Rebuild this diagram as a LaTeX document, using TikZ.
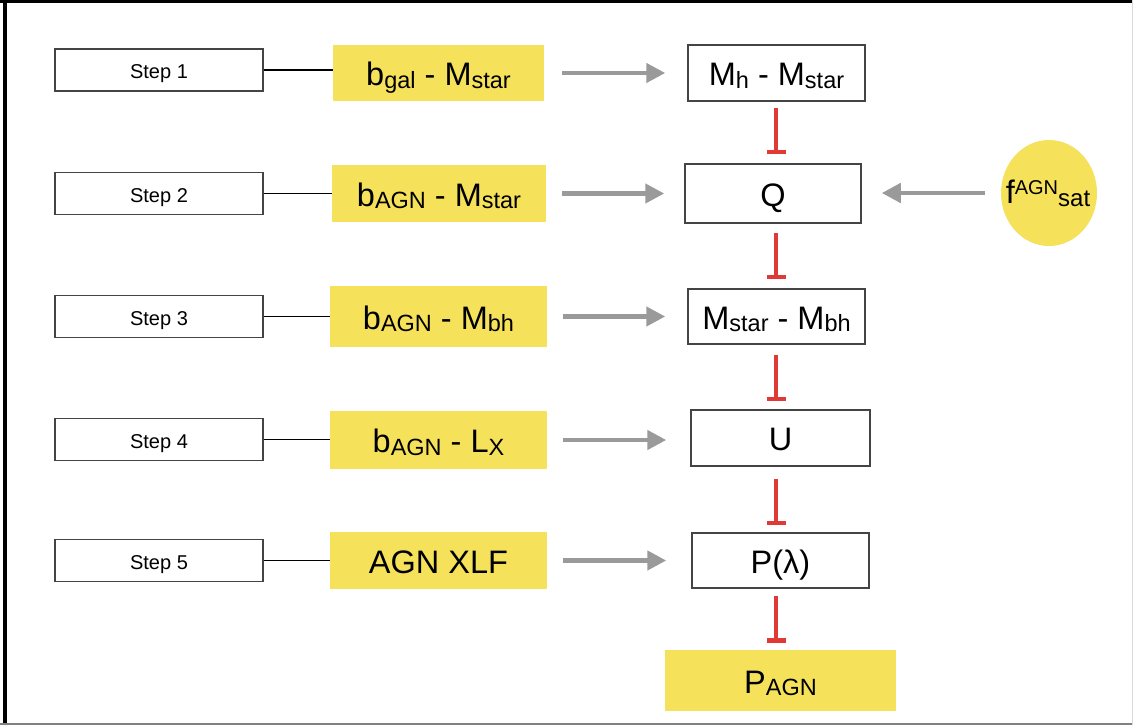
\documentclass[tikz,border=0pt]{standalone}
\usepackage{fontspec}
\setmainfont{Liberation Sans}
\usetikzlibrary{arrows.meta,shapes.geometric,calc}

\definecolor{ylw}{HTML}{F5E15A}
\definecolor{redT}{HTML}{E03A36}
\definecolor{garr}{HTML}{9A9A9A}
\definecolor{bxc}{HTML}{444444}

\newcommand{\txL}{\fontsize{32.5}{36}\selectfont}
\newcommand{\txS}{\fontsize{20}{23}\selectfont}
\newcommand{\subx}[1]{\raisebox{-2.5pt}{\fontsize{23.5}{26}\selectfont #1}}

\tikzset{
  stepbox/.style={draw=bxc, line width=1.3pt, minimum width=208pt, minimum height=42pt, inner sep=0pt, font=\txS, text height=17.4pt, text depth=0pt},
  ybox/.style={fill=ylw, draw=none, inner sep=0pt, font=\txL, text height=25pt, text depth=0pt},
  wbox/.style={draw=bxc, line width=1.5pt, inner sep=0pt, font=\txL, fill=white, text height=25pt, text depth=0pt},
  link/.style={draw=black, line width=1.8pt},
  garrow/.style={draw=garr, line width=4.5pt, -{Triangle[length=19pt,width=19pt]}},
  tbar/.style={draw=redT, line width=4pt, -{Bar[width=19pt,line width=4.5pt]}},
}

\begin{document}
\begin{tikzpicture}[x=1pt,y=-1pt]
\useasboundingbox (0,0) rectangle (1133,725);
\fill[white] (0,0) rectangle (1133,725);
% frame
\draw[black, line width=4pt] (5,0) -- (5,725);
\draw[black, line width=3pt] (0,1.5) -- (1133,1.5);
\draw[black!50, line width=2pt] (0,723.5) -- (1133,723.5);
\draw[black!15, line width=1pt] (1132.5,0) -- (1132.5,725);

% step boxes
\node[stepbox] (s1) at (159,70)    {Step 1};
\node[stepbox] (s2) at (159,193.5) {Step 2};
\node[stepbox] (s3) at (159,316.5) {Step 3};
\node[stepbox] (s4) at (159,439.5) {Step 4};
\node[stepbox] (s5) at (159,560.5) {Step 5};

% yellow boxes
\node[ybox, minimum width=211pt, minimum height=56pt] (y1) at (438.5,73)    {b\subx{gal} - M\subx{star}};
\node[ybox, minimum width=214pt, minimum height=57pt] (y2) at (439,193.5)   {b\subx{AGN} - M\subx{star}};
\node[ybox, minimum width=217pt, minimum height=61pt] (y3) at (438.5,316.5) {b\subx{AGN} - M\subx{bh}};
\node[ybox, minimum width=217pt, minimum height=58pt] (y4) at (438.5,440)   {b\subx{AGN} - L\subx{X}};
\node[ybox, minimum width=217pt, minimum height=57pt] (y5) at (438.5,560.5) {AGN XLF};

% right column
\node[wbox, minimum width=177pt, minimum height=56pt] (m1) at (776.5,73)    {M\subx{h} - M\subx{star}};
\node[wbox, minimum width=176pt, minimum height=59pt] (q)  at (773,193.5)   {Q};
\node[wbox, minimum width=177pt, minimum height=55pt] (ms) at (776.5,316.5) {M\subx{star} - M\subx{bh}};
\node[wbox, minimum width=179pt, minimum height=56pt] (u)  at (780.5,438)   {U};
\node[wbox, minimum width=177pt, minimum height=55pt] (p)  at (780.5,560.5) {P(λ)};
\node[ybox, minimum width=231pt, minimum height=61pt] (pa) at (780.5,680.5) {P\subx{AGN}};

% satellite fraction ellipse
\node[ellipse, fill=ylw, draw=none, minimum width=96pt, minimum height=106pt, inner sep=0pt] (fs) at (1049,193) {};
\node[inner sep=0pt, anchor=base] (fst) at (1048,203) {\txL f\raisebox{9pt}{\fontsize{20}{22}\selectfont AGN}\raisebox{-3pt}{\fontsize{24}{26}\selectfont sat}};

% step links
\draw[link] (s1.east) -- (s1.east -| y1.west);
\draw[link] (s2.east) -- (s2.east -| y2.west);
\draw[link] (s3.east) -- (s3.east -| y3.west);
\draw[link] (s4.east) -- (s4.east -| y4.west);
\draw[link] (s5.east) -- (s5.east -| y5.west);

% grey arrows
\draw[garrow, shorten <=18pt, shorten >=22pt] (y1.east) -- (y1.east -| m1.west);
\draw[garrow, shorten <=16pt, shorten >=20pt] (y2.east) -- (y2.east -| q.west);
\draw[garrow, shorten <=16pt, shorten >=22pt] (y3.east) -- (y3.east -| ms.west);
\draw[garrow, shorten <=16pt, shorten >=24pt] (y4.east) -- (y4.east -| u.west);
\draw[garrow, shorten <=16pt, shorten >=25pt] (y5.east) -- (y5.east -| p.west);
\draw[garrow, shorten <=16pt, shorten >=20pt] (fs.west) -- (fs.west -| q.east);

% red T-bars
\coordinate (lx) at (776,0);
\draw[tbar, shorten <=6pt,  shorten >=9pt] (m1.south -| lx) -- (q.north -| lx);
\draw[tbar, shorten <=9pt,  shorten >=9pt] (q.south -| lx)  -- (ms.north -| lx);
\draw[tbar, shorten <=10pt, shorten >=8pt] (ms.south -| lx) -- (u.north -| lx);
\draw[tbar, shorten <=12pt, shorten >=7pt] (u.south -| lx)  -- (p.north -| lx);
\draw[tbar, shorten <=7pt,  shorten >=7pt] (p.south -| lx)  -- (pa.north -| lx);
\end{tikzpicture}
\end{document}
